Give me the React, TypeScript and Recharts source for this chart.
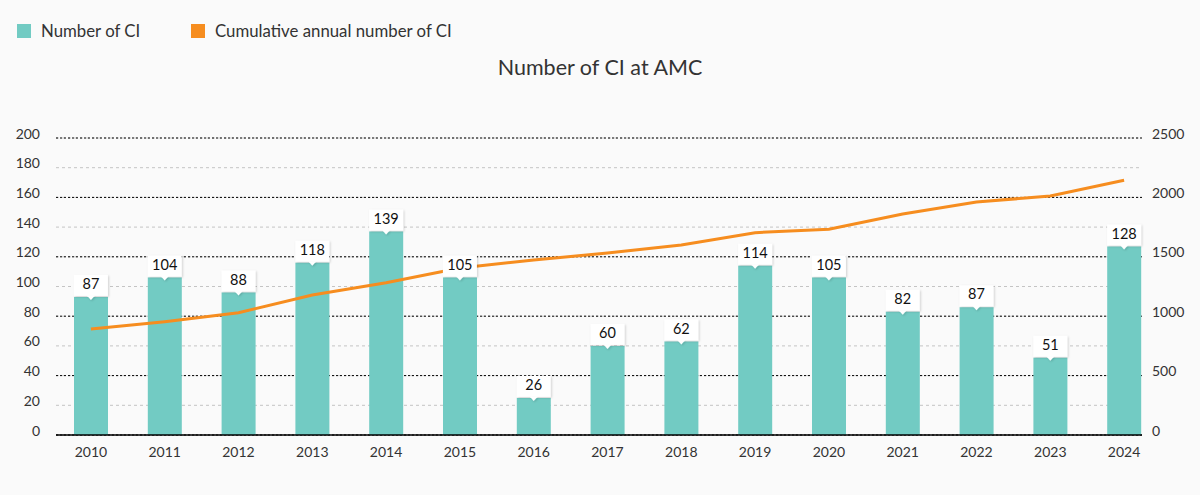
import React from 'react';
import {
  ComposedChart,
  Bar,
  Line,
  XAxis,
  YAxis,
  CartesianGrid,
} from 'recharts';

const years = ['2010', '2011', '2012', '2013', '2014', '2015', '2016', '2017', '2018', '2019', '2020', '2021', '2022', '2023', '2024'];
// value printed in each tag
const ciLabels = [87, 104, 88, 118, 139, 105, 26, 60, 62, 114, 105, 82, 87, 51, 128];
// bar heights as drawn on the left axis
const ciBars = [93, 106, 96, 116, 137, 106, 25, 60, 63, 114, 106, 83, 86, 52, 127];
const cumulative = [892, 954, 1029, 1178, 1282, 1405, 1473, 1532, 1599, 1703, 1732, 1860, 1961, 2012, 2144];

const leftTicks = [0, 20, 40, 60, 80, 100, 120, 140, 160, 180, 200];
const rightTicks = [0, 500, 1000, 1500, 2000, 2500];

const TEAL = '#72cbc3';
const ORANGE = '#f68d1f';
const FONT = 'Lato, "Noto Sans", sans-serif';

const data = years.map((year, i) => ({
  year,
  bar: ciBars[i],
  label: ciLabels[i],
  total: cumulative[i],
}));

const LeftTick = (props: any) => (
  <text x={40} y={props.y} dy={-3} textAnchor="end" dominantBaseline="middle" fontSize={14} fill="#333" fontFamily={FONT}>
    {props.payload.value}
  </text>
);

const RightTick = (props: any) => (
  <text x={1152} y={props.y} dy={-3} textAnchor="start" dominantBaseline="middle" fontSize={14} fill="#333" fontFamily={FONT}>
    {props.payload.value}
  </text>
);

const BottomTick = (props: any) => (
  <text x={props.x} y={453} textAnchor="middle" dominantBaseline="middle" fontSize={14} fill="#333" fontFamily={FONT}>
    {props.payload.value}
  </text>
);

const Tag = (props: any) => {
  const { x, y, index } = props;
  if (x == null || y == null) return null;
  return (
    <g>
      <g filter="url(#tagShadow)">
        <rect x={x - 17} y={y - 22} width={34} height={21} fill="#fff" />
        <path d={`M${x - 4},${y - 1.5} L${x + 4},${y - 1.5} L${x},${y + 3} Z`} fill="#fff" />
      </g>
      <text x={x} y={y - 11.5} textAnchor="middle" dominantBaseline="middle" fontSize={14.5} fill="#111" fontFamily={FONT}>
        {ciLabels[index]}
      </text>
    </g>
  );
};

const LegendItem = ({ color, text, left }: { color: string; text: string; left: number }) => (
  <div style={{ position: 'absolute', left, top: 24, display: 'flex', alignItems: 'center' }}>
    <span style={{ width: 14, height: 14, background: color, display: 'inline-block', marginRight: 10 }} />
    <span style={{ fontSize: 16.8, color: '#333', lineHeight: '14px' }}>{text}</span>
  </div>
);

export default function App() {
  return (
    <div style={{ position: 'absolute', left: 0, top: 0, width: 1200, height: 495, background: '#fafafa', fontFamily: FONT, overflow: 'hidden' }}>
      <svg width={0} height={0} style={{ position: 'absolute' }}>
        <defs>
          <filter id="tagShadow" x="-30%" y="-30%" width="160%" height="160%">
            <feDropShadow dx={1} dy={1} stdDeviation={1} floodColor="#000" floodOpacity={0.18} />
          </filter>
        </defs>
      </svg>
      <LegendItem color={TEAL} text="Number of CI" left={17} />
      <LegendItem color={ORANGE} text="Cumulative annual number of CI" left={191} />
      <div style={{ position: 'absolute', left: 0, width: 1200, top: 54, textAlign: 'center', fontSize: 21.5, color: '#333' }}>
        Number of CI at AMC
      </div>
      <div style={{ position: 'absolute', left: 0, top: 0 }}>
        <ComposedChart width={1200} height={495} data={data} margin={{ top: 138, right: 0, bottom: 0, left: 0 }}>
          <CartesianGrid yAxisId="left" vertical={false} stroke="#c4c4c4" strokeDasharray="3 3" />
          <CartesianGrid yAxisId="right" vertical={false} stroke="#000" strokeDasharray="2 2" />
          <XAxis
            dataKey="year"
            height={60}
            padding={{ left: -2, right: -19 }}
            tickLine={false}
            axisLine={{ stroke: '#000', strokeWidth: 1.5 }}
            tick={<BottomTick />}
            interval={0}
          />
          <YAxis
            yAxisId="left"
            width={56}
            domain={[0, 200]}
            ticks={leftTicks}
            axisLine={false}
            tickLine={false}
            tick={<LeftTick />}
          />
          <YAxis
            yAxisId="right"
            orientation="right"
            width={58}
            domain={[0, 2500]}
            ticks={rightTicks}
            axisLine={false}
            tickLine={false}
            tick={<RightTick />}
          />
          <Bar yAxisId="left" dataKey="bar" fill={TEAL} barSize={34} isAnimationActive={false} />
          <Line
            yAxisId="right"
            dataKey="total"
            type="linear"
            stroke={ORANGE}
            strokeWidth={3}
            dot={false}
            activeDot={false}
            isAnimationActive={false}
          />
          {/* invisible line on the bar tops, only there to put the tags above the orange line */}
          <Line
            yAxisId="left"
            dataKey="bar"
            stroke="none"
            dot={false}
            activeDot={false}
            legendType="none"
            label={<Tag />}
            isAnimationActive={false}
          />
        </ComposedChart>
      </div>
    </div>
  );
}
